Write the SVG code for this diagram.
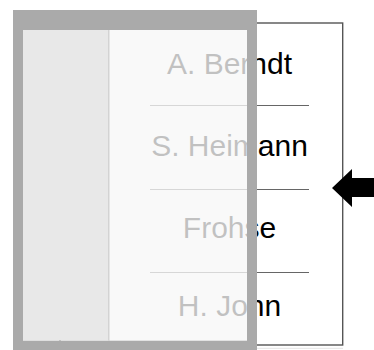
<svg xmlns="http://www.w3.org/2000/svg" width="374" height="350" viewBox="0 0 374 350">
<style>
.name{font-family:"Liberation Sans",Arial,sans-serif;font-size:30px;fill:#000;text-anchor:middle}
.sep{stroke:#666;stroke-width:1}
</style>
<rect x="0" y="0" width="374" height="350" fill="#fff"/>
<g id="list">
<rect x="60" y="23" width="282.7" height="322" fill="#fff" stroke="#555" stroke-width="1.4"/>
<line x1="257" y1="348.3" x2="343" y2="348.3" stroke="#e4e4e4" stroke-width="1"/>
</g>
<g id="item-berndt"><text class="name" x="229.5" y="74">A. Berndt</text></g>
<line class="sep" x1="150" y1="105.5" x2="309" y2="105.5"/>
<g id="item-heimann"><text class="name" x="229.5" y="156">S. Heimann</text></g>
<line class="sep" x1="150" y1="189.5" x2="309" y2="189.5"/>
<g id="item-frohse"><text class="name" x="229.5" y="238">Frohse</text></g>
<line class="sep" x1="150" y1="272.5" x2="309" y2="272.5"/>
<g id="item-john"><text class="name" x="229.5" y="315.5">H. John</text></g>
<g id="overlay">
<path d="M13 10H257V350H13Z M23 30V340.5H247V30Z" fill="#aaa" fill-rule="evenodd"/>
<rect x="23" y="30" width="85.5" height="310.5" fill="#e8e8e8"/>
<rect x="109.5" y="30" width="137.5" height="310.5" fill="#f7f7f7" fill-opacity="0.78"/>
<line x1="108.8" y1="30" x2="108.8" y2="340.5" stroke="#d0d0d0" stroke-width="1.4"/>
</g>
<g id="arrow">
<polygon points="332,188 352,169 352,178 374,178 374,197 352,197 352,207" fill="#000"/>
</g>
</svg>
